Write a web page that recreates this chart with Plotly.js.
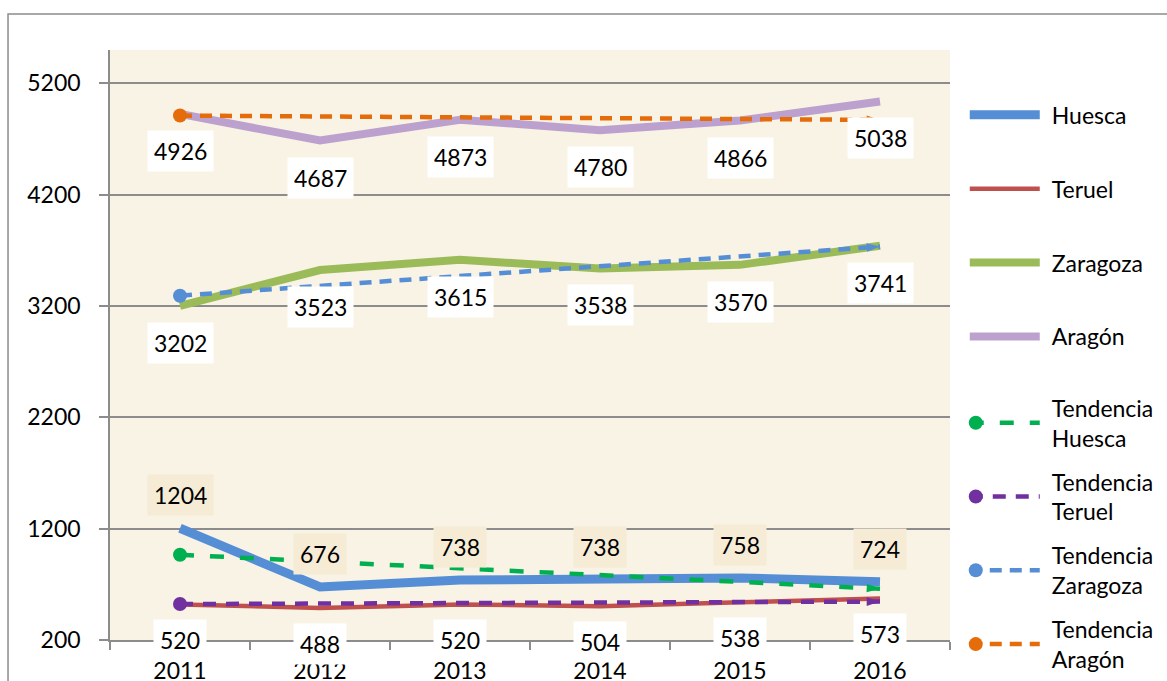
<!DOCTYPE html>
<html><head><meta charset="utf-8">
<script src="https://cdn.plot.ly/plotly-3.0.1.min.js"></script>
<style>html,body{margin:0;padding:0;background:#fff}</style>
</head><body><div id="chart" style="width:1167px;height:681px"></div>
<script>
const years = ['2011','2012','2013','2014','2015','2016'];
const huesca = [1204,676,738,738,758,724];
const teruel = [520,488,520,504,538,573];
const zaragoza = [3202,3523,3615,3538,3570,3741];
const aragon = [4926,4687,4873,4780,4866,5038];
const trendYears = ['2011','2016'];
const trendHuesca = [966,661];
const trendTeruel = [523,545];
const trendZaragoza = [3293,3734];
const trendAragon = [4911,4872];
const yTicks = [200,1200,2200,3200,4200,5200];

const FONT = 'Lato, "Open Sans", sans-serif';

function series(name, y, color, width) {
  return {type:'scatter', mode:'lines', name:name, x:years, y:y,
    line:{color:color, width:width}, legend:'legend', legendgroup:name,
    hoverinfo:'x+y'};
}
function trend(name, y, color, dash, arrowAngle) {
  return {type:'scatter', mode:'lines+markers', name:name, x:trendYears, y:y,
    line:{color:color, width:4.5, dash:dash},
    marker:{color:color, size:14, opacity:1, line:{width:0},
      symbol:['circle','arrow'], angle:[0, arrowAngle]},
    legend:'legend2', legendgroup:name, hoverinfo:'x+y'};
}

const data = [
  series('Huesca', huesca, '#558ED5', 9),
  series('Teruel', teruel, '#C0504D', 4.5),
  series('Zaragoza', zaragoza, '#9BBB59', 8),
  series('Aragón', aragon, '#BCA1CF', 8),
  trend('Tendencia<br>Huesca', trendHuesca, '#00B050', '14px,16px', 93),
  trend('Tendencia<br>Teruel', trendTeruel, '#7030A0', '13px,10px', 90),
  trend('Tendencia<br>Zaragoza', trendZaragoza, '#558ED5', '12px,8px', 86),
  trend('Tendencia<br>Aragón', trendAragon, '#E46C0A', '12px,8px', 90)
];

const annotations = [];
function labels(y, shift, bg) {
  years.forEach((yr, i) => {
    annotations.push({x:i, y:y[i], xref:'x', yref:'y', text:String(y[i]),
      showarrow:false, yshift:shift, bgcolor:bg, borderpad:6,
      font:{family:FONT, size:23, color:'#000'}});
  });
}
labels(aragon, -37, '#FFFFFF');
labels(zaragoza, -37, '#FFFFFF');
labels(teruel, -36, '#FFFFFF');
labels(huesca, 33, '#F6ECD6');

const layout = {
  width:1167, height:681,
  margin:{l:110, r:217, t:50, b:41, autoexpand:false},
  paper_bgcolor:'#FFFFFF',
  plot_bgcolor:'#F9F3E6',
  font:{family:FONT, size:23, color:'#000'},
  showlegend:true,
  xaxis:{type:'category', range:[-0.5,5.5], tickson:'boundaries', automargin:false,
    ticks:'outside', ticklen:8, tickcolor:'#8C8C8C', tickwidth:1.5,
    showline:true, linecolor:'#8C8C8C', linewidth:1.5, showgrid:false,
    ticklabelstandoff:10, tickfont:{family:FONT, size:23, color:'#000'}},
  yaxis:{range:[200,5500], tickvals:yTicks, ticktext:yTicks.map(String), automargin:false,
    ticks:'outside', ticklen:9, tickcolor:'#8C8C8C', tickwidth:1.5,
    showline:true, linecolor:'#8C8C8C', linewidth:1.5,
    showgrid:true, gridcolor:'#8C8C8C', gridwidth:1.5, zeroline:false,
    ticklabelstandoff:14, tickfont:{family:FONT, size:23, color:'#000'}},
  legend:{x:1.014, xanchor:'left', y:0.9265, yanchor:'top', bgcolor:'rgba(0,0,0,0)',
    traceorder:'grouped', tracegroupgap:41, itemwidth:80,
    font:{family:FONT, size:23, color:'#000'}},
  legend2:{x:1.014, xanchor:'left', y:0.43, yanchor:'top', bgcolor:'rgba(0,0,0,0)',
    traceorder:'grouped', tracegroupgap:11, itemwidth:80,
    font:{family:FONT, size:23, color:'#000'}},
  annotations:annotations,
  shapes:[{type:'rect', xref:'paper', yref:'paper', x0:-0.1214, x1:1.4, y0:-0.3, y1:1.061,
    line:{color:'#8C8C8C', width:1.5}, fillcolor:'rgba(0,0,0,0)', layer:'below'}]
};

Plotly.newPlot('chart', data, layout, {displayModeBar:false, responsive:false}).then(function(gd){
  // lengthen legend line samples to match the reference's long swatches
  gd.querySelectorAll('g.legendlines path').forEach(function(p){ p.setAttribute('d','M8,0h70'); });
  gd.querySelectorAll('g.legendpoints path.scatterpts').forEach(function(p){ p.setAttribute('transform','translate(14,0)'); });
});
</script></body></html>
